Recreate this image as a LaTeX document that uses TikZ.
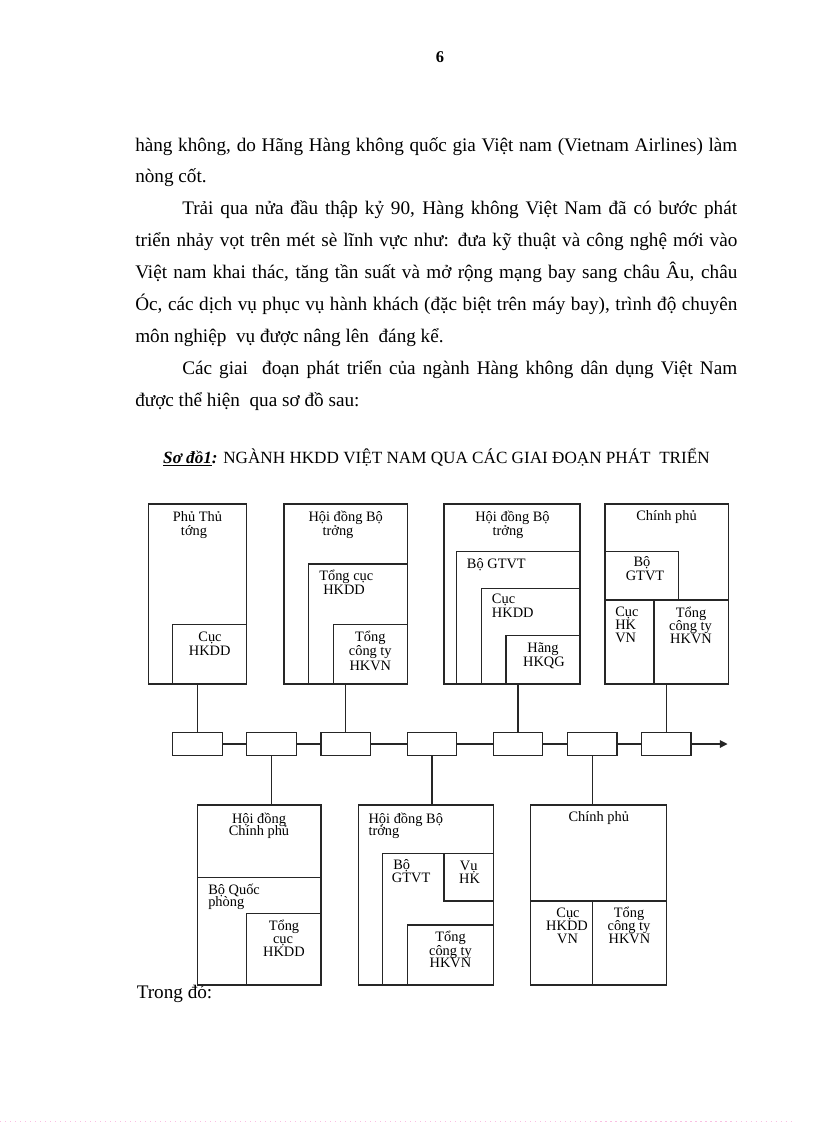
\documentclass[tikz,border=0pt]{standalone}
\usepackage{fontspec}
\setmainfont{Liberation Serif}
\usetikzlibrary{arrows.meta,fit}
\newcommand\bt[5][base]{\node[btxt,anchor=#1] (#2) at (#3,#4) {#5};}
\newcommand\rbox[5]{\node[box,fit={(#2,#3) (#4,#5)}] (#1) {};}
\begin{document}
\begin{tikzpicture}[x=0.7295pt,y=-0.7295pt,
  box/.style={draw=black!85,line width=0.75pt,inner sep=0pt,outer sep=0pt},
  tbox/.style={draw=black!85,line width=0.75pt,inner sep=0pt,outer sep=0pt,
    minimum width=49.6*0.7295pt,minimum height=23.7*0.7295pt},
  conn/.style={draw=black!85,line width=0.75pt},
  btxt/.style={font=\fontsize{10.5}{9.5}\selectfont,inner sep=0pt},
  body/.style={font=\fontsize{14}{16}\selectfont,inner sep=0pt,anchor=base west}]
\useasboundingbox (0,0) rectangle (816,1123);
\fill[white] (0,0) rectangle (816,1123);

% page number and body text
\node[font=\fontsize{12}{14}\selectfont\bfseries,inner sep=0pt,anchor=base] (pg) at (440,62) {6};
\node[body] (L1) at (135,151) {\makebox[439.2pt][s]{hàng không, do Hãng Hàng không quốc gia Việt nam (Vietnam Airlines) làm}};
\node[body] (L2) at (135,182.9) {nòng cốt.};
\node[body] (L3) at (182,214.8) {\makebox[404.8pt][s]{Trải qua nửa đầu thập kỷ 90, Hàng không Việt Nam đã có bước phát}};
\node[body] (L4) at (135,246.7) {\makebox[439.2pt][s]{triển nhảy vọt trên mét sè lĩnh vực như: đưa kỹ thuật và công nghệ mới vào}};
\node[body] (L5) at (135,278.6) {\makebox[439.2pt][s]{Việt nam khai thác, tăng tần suất và mở rộng mạng bay sang châu Âu, châu}};
\node[body] (L6) at (135,310.5) {\makebox[439.2pt][s]{Óc, các dịch vụ phục vụ hành khách (đặc biệt trên máy bay), trình độ chuyên}};
\node[body] (L7) at (135,342.4) {môn nghiệp\ \ vụ được nâng lên\ \ đáng kể.};
\node[body] (L8) at (182,374.3) {\makebox[404.8pt][s]{Các giai\ \ đoạn phát triển của ngành Hàng không dân dụng Việt Nam}};
\node[body] (L9) at (135,406.2) {được thể hiện\ \ qua sơ đồ sau:};
\node[font=\fontsize{12.5}{14}\selectfont,inner sep=0pt,anchor=base] (title) at (436.5,463)
  {\textbf{\textit{\underline{Sơ đồ1}:}} NGÀNH HKDD VIỆT NAM QUA CÁC GIAI ĐOẠN PHÁT\ \ TRIỂN};
\node[body] (trong) at (136.5,998) {Trong đó:};

% top boxes
\rbox{B1}{148.3}{504}{246.7}{684}
\rbox{B1a}{172.7}{624.3}{246.7}{684}
\rbox{B2}{284}{504}{407.3}{684}
\rbox{B2a}{308.3}{564}{407.3}{684}
\rbox{B2b}{333.3}{624.3}{407.3}{684}
\rbox{B3}{444}{504}{580}{684}
\rbox{B3a}{456.7}{551.7}{580}{684}
\rbox{B3b}{481.7}{588.3}{580}{684}
\rbox{B3c}{506}{635.7}{580}{684}
\rbox{B4}{605}{504}{728.3}{684}
\rbox{B4a}{605}{551.7}{678.3}{600}
\rbox{B4b}{605}{600}{654}{684}
\rbox{B4c}{654}{600}{728.3}{684}

% bottom boxes
\rbox{C1}{197.7}{805}{321}{985}
\rbox{C1a}{197.7}{877.3}{321}{985}
\rbox{C1b}{246.7}{913.3}{321}{985}
\rbox{C2}{358.3}{805}{493.3}{985}
\rbox{C2a}{382.7}{853.3}{493.3}{985}
\rbox{C2b}{444}{853.3}{493.3}{901}
\rbox{C2c}{407.3}{925}{493.3}{985}
\rbox{C3}{530.7}{805}{666.7}{985}
\rbox{C3a}{530.7}{901}{592.3}{985}
\rbox{C3b}{592.3}{901}{666.7}{985}

% timeline
\node[tbox] (t1) at (197.7,744) {};
\node[tbox] (t2) at (271.7,744) {};
\node[tbox] (t3) at (345.8,744) {};
\node[tbox] (t4) at (432,744) {};
\node[tbox] (t5) at (518,744) {};
\node[tbox] (t6) at (592.2,744) {};
\node[tbox] (t7) at (666.2,744) {};
\coordinate (tend) at (727.5,744);
\path[conn] (t1.east) -- (t2.west) (t2.east) -- (t3.west) (t3.east) -- (t4.west)
  (t4.east) -- (t5.west) (t5.east) -- (t6.west) (t6.east) -- (t7.west);
\draw[conn,-{Triangle[length=5.5pt,width=5.5pt]}] (t7.east) -- (tend);
\draw[conn] (t1.north) -- (t1.north |- B1.south);
\draw[conn] (t3.north) -- (t3.north |- B2.south);
\draw[conn] (t5.north) -- (t5.north |- B3.south);
\draw[conn] (t7.north) -- (t7.north |- B4.south);
\draw[conn] (t2.south) -- (t2.south |- C1.north);
\draw[conn] (t4.south) -- (t4.south |- C2.north);
\draw[conn] (t6.south) -- (t6.south |- C3.north);

% texts top
\bt{b1t1}{197.5}{521.7}{Phủ Thủ}
\bt{b1t2}{194}{535}{tớng}
\bt{b1t3}{210}{641.7}{Cục}
\bt{b1t4}{209.7}{655}{HKDD}
\bt{b2t1}{345.7}{521.7}{Hội đồng Bộ}
\bt{b2t2}{338}{535}{trởng}
\bt[base west]{b2t3}{319}{580.7}{Tổng cục}
\bt[base west]{b2t4}{323}{594}{HKDD}
\bt{b2t5}{370.3}{641.7}{Tổng}
\bt{b2t6}{370.3}{655.7}{công ty}
\bt{b2t7}{370.3}{670}{HKVN}
\bt{b3t1}{512.5}{521.7}{Hội đồng Bộ}
\bt{b3t2}{508}{535}{trởng}
\bt[base west]{b3t3}{466.7}{568.3}{Bộ GTVT}
\bt[base west]{b3t4}{491.7}{603.3}{Cục}
\bt[base west]{b3t5}{491.7}{617.7}{HKDD}
\bt{b3t6}{543}{652.7}{Hãng}
\bt{b3t7}{544}{666.7}{HKQG}
\bt{b4t1}{666.5}{520}{Chính phủ}
\bt{b4t2}{642}{566.7}{Bộ}
\bt{b4t3}{645}{580.7}{GTVT}
\bt[base west]{b4t4}{615}{616}{Cục}
\bt[base west]{b4t5}{615}{629.3}{HK}
\bt[base west]{b4t6}{615}{642.7}{VN}
\bt{b4t7}{691}{617.5}{Tổng}
\bt{b4t8}{690.5}{630.5}{công ty}
\bt{b4t9}{691}{643}{HKVN}

% texts bottom
\bt{c1t1}{259}{823.3}{Hội đồng}
\bt{c1t2}{259}{835.7}{Chính phủ}
\bt[base west]{c1t3}{208}{894}{Bộ Quốc}
\bt[base west]{c1t4}{208}{906.7}{phòng}
\bt{c1t5}{284}{930}{Tổng}
\bt{c1t6}{283}{943.3}{cục}
\bt{c1t7}{284}{956}{HKDD}
\bt[base west]{c2t1}{368.3}{823.3}{Hội đồng Bộ}
\bt[base west]{c2t2}{368.3}{835.7}{trởng}
\bt[base west]{c2t3}{393}{869}{Bộ}
\bt[base west]{c2t4}{391.7}{882.3}{GTVT}
\bt{c2t5}{468.7}{870}{Vụ}
\bt{c2t6}{469.5}{883.3}{HK}
\bt{c2t7}{450.5}{941.7}{Tổng}
\bt{c2t8}{450.5}{955}{công ty}
\bt{c2t9}{450.5}{967.7}{HKVN}
\bt{c3t1}{598.8}{821.7}{Chính phủ}
\bt{c3t2}{568}{917.7}{Cục}
\bt{c3t3}{567}{930.7}{HKDD}
\bt{c3t4}{567.5}{943.3}{VN}
\bt{c3t5}{629}{917}{Tổng}
\bt{c3t6}{629}{930.2}{công ty}
\bt{c3t7}{629.5}{943.3}{HKVN}

% faint page-edge dots
\draw[magenta!25,line width=1pt,dash pattern=on 0.8pt off 2.85pt] (0,1121.5) -- (792,1121.5);
\end{tikzpicture}
\end{document}
